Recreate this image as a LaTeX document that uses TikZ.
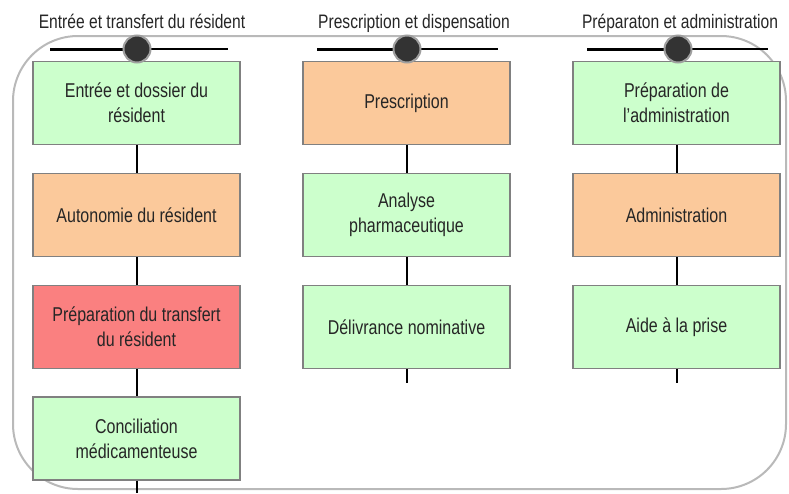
\documentclass[tikz,border=0pt]{standalone}
\usepackage{fontspec}
\setmainfont{Liberation Sans}[FakeStretch=0.8]
\definecolor{vertpale}{RGB}{204,255,204}
\definecolor{orangepale}{RGB}{251,201,155}
\definecolor{rougepale}{RGB}{250,128,128}
\begin{document}
\begin{tikzpicture}[x=1pt,y=-1pt,
        etape/.style={draw=black!50,line width=1.2pt,minimum width=207pt,minimum height=83pt,align=center,text=black!85,font=\fontsize{20}{25}\selectfont},
        vertbox/.style={etape,fill=vertpale},
        orangebox/.style={etape,fill=orangepale},
        rougebox/.style={etape,fill=rougepale},
        titre/.style={anchor=base,text=black!85,font=\fontsize{19.5}{22}\selectfont},
        lien/.style={line width=2pt},
        curseur/.style={circle,fill=black!80,draw=gray!75,line width=2pt,minimum size=27pt,inner sep=0pt}]
                \useasboundingbox (0,0) rectangle (789,493);
                \draw[gray!55,line width=2pt,rounded corners=65pt] (13,36) rectangle (786,489);
                % titres des colonnes
                \node[titre] (T1) at (142,28) {Entrée et transfert du résident};
                \node[titre] (T2) at (414,28) {Prescription et dispensation};
                \node[titre] (T3) at (680,28) {Préparaton et administration};
                % colonne 1
                \node[vertbox] (E1) at (136.5,103) {Entrée et dossier du\\résident};
                \node[orangebox] (E2) at (136.5,215) {Autonomie du résident};
                \node[rougebox] (E3) at (136.5,327) {Préparation du transfert\\du résident};
                \node[vertbox] (E4) at (136.5,438.5) {Conciliation\\médicamenteuse};
                % colonne 2
                \node[orangebox] (P1) at (406.5,103) {Prescription};
                \node[vertbox] (P2) at (406.5,215) {Analyse\\pharmaceutique};
                \node[vertbox] (P3) at (406.5,327) {Délivrance nominative};
                % colonne 3
                \node[vertbox] (A1) at (676.5,103) {Préparation de\\l'administration};
                \node[orangebox] (A2) at (676.5,215) {Administration};
                \node[vertbox] (A3) at (676.5,327) {Aide à la prise};
                % liens
                \coordinate (F1) at (136.5,493);
                \coordinate (F2) at (406.5,383);
                \coordinate (F3) at (676.5,383);
                \draw[lien] (E1) -- (E2) (E2) -- (E3) (E3) -- (E4) (E4) -- (F1);
                \draw[lien] (P1) -- (P2) (P2) -- (P3) (P3) -- (F2);
                \draw[lien] (A1) -- (A2) (A2) -- (A3) (A3) -- (F3);
                % curseurs
                \coordinate (G1) at (50,49);
                \coordinate (K1) at (137,49);
                \coordinate (D1) at (228,49);
                \coordinate (G2) at (317,49);
                \coordinate (K2) at (407,49);
                \coordinate (D2) at (498,49);
                \coordinate (G3) at (587,49);
                \coordinate (K3) at (678,49);
                \coordinate (D3) at (768,49);
                \draw[line width=3pt] (G1) -- (K1) (G2) -- (K2) (G3) -- (K3);
                \draw[line width=1.3pt] (K1) -- (D1) (K2) -- (D2) (K3) -- (D3);
                \node[curseur] (C1) at (K1) {};
                \node[curseur] (C2) at (K2) {};
                \node[curseur] (C3) at (K3) {};
            \end{tikzpicture}
\end{document}
